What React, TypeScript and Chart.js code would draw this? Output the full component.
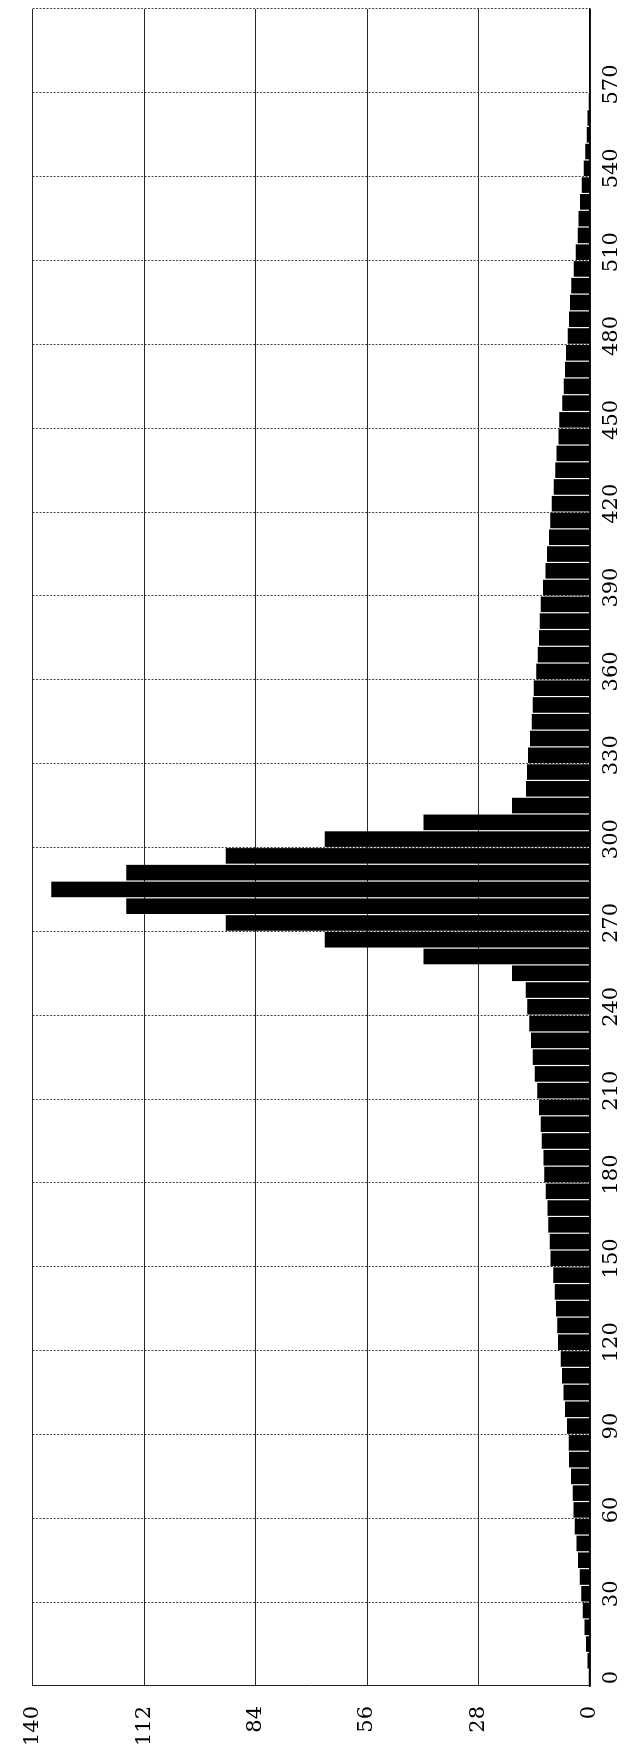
import React, { useEffect, useRef } from 'react';
import { Chart, registerables } from 'chart.js';

Chart.register(...registerables);

// Bin start values (category axis, bin width 6)
const BIN_STARTS = [
  0, 6, 12, 18, 24, 30, 36, 42, 48, 54,
  60, 66, 72, 78, 84, 90, 96, 102, 108, 114,
  120, 126, 132, 138, 144, 150, 156, 162, 168, 174,
  180, 186, 192, 198, 204, 210, 216, 222, 228, 234,
  240, 246, 252, 258, 264, 270, 276, 282, 288, 294,
  300, 306, 312, 318, 324, 330, 336, 342, 348, 354,
  360, 366, 372, 378, 384, 390, 396, 402, 408, 414,
  420, 426, 432, 438, 444, 450, 456, 462, 468, 474,
  480, 486, 492, 498, 504, 510, 516, 522, 528, 534,
  540, 546, 552, 558, 564, 570, 576, 582, 588, 594,
];

// Counts per bin
const COUNTS = [
  0.3, 0.6, 1.0, 1.4, 1.8, 2.2, 2.6, 3.0, 3.4, 3.8,
  4.15, 4.35, 4.75, 5.25, 5.35, 5.75, 6.25, 6.65, 7.05, 7.35,
  8.05, 8.25, 8.55, 8.85, 9.25, 9.9, 10.1, 10.5, 10.7, 11.1,
  11.5, 11.7, 12.15, 12.4, 12.8, 13.25, 13.85, 14.35, 14.85, 15.25,
  15.75, 16.15, 19.6, 41.8, 66.6, 91.5, 116.5, 135.3, 116.5, 91.5,
  66.6, 41.8, 19.6, 16.1, 15.8, 15.6, 15.1, 14.6, 14.4, 14.1,
  13.5, 13.1, 12.8, 12.6, 12.4, 11.8, 11.2, 10.8, 10.3, 10.0,
  9.6, 9.1, 8.7, 8.4, 7.9, 7.7, 7.0, 6.6, 6.3, 6.0,
  5.6, 5.3, 5.0, 4.7, 4.1, 3.6, 3.1, 2.9, 2.5, 2.1,
  1.6, 1.2, 0.8, 0.6, 0.3, 0.15, 0.05, 0, 0, 0,
];

// Category tick labels (every 5th bin)
const X_TICK_LABELS = [
  '0', '30', '60', '90', '120', '150', '180', '210', '240', '270',
  '300', '330', '360', '390', '420', '450', '480', '510', '540', '570',
];

// Value axis
const Y_MIN = 0;
const Y_MAX = 140;
const Y_STEP = 28;

const CANVAS_W = 1752;
const CANVAS_H = 633;
const FONT = { family: 'DejaVu Serif', size: 21 };

export default function App() {
  const ref = useRef<HTMLCanvasElement>(null);

  useEffect(() => {
    if (!ref.current) return;
    const chart = new Chart(ref.current, {
      type: 'bar',
      data: {
        labels: BIN_STARTS.map(String),
        datasets: [
          {
            data: COUNTS,
            backgroundColor: '#000000',
            borderWidth: 0,
            barPercentage: 0.93,
            categoryPercentage: 1,
          },
        ],
      },
      options: {
        animation: false,
        responsive: true,
        maintainAspectRatio: false,
        layout: { padding: { left: 0, right: 9, top: 26, bottom: 0 } },
        plugins: { legend: { display: false }, tooltip: { enabled: false } },
        scales: {
          x: {
            type: 'category',
            afterFit: (s: any) => {
              s.height = 43;
            },
            grid: {
              offset: true,
              drawTicks: false,
              lineWidth: 1,
              color: (ctx: any) =>
                ctx.index === undefined || ctx.index % 5 === 0 ? '#444444' : 'rgba(0,0,0,0)',
            },
            border: { display: true, color: '#000000', width: 1.5, dash: [2, 1.5] },
            ticks: {
              autoSkip: false,
              maxRotation: 0,
              minRotation: 0,
              padding: 9,
              color: '#000000',
              font: FONT,
              callback: (_v: any, i: number) => (i % 5 === 0 ? X_TICK_LABELS[i / 5] : ''),
            },
          },
          y: {
            min: Y_MIN,
            max: Y_MAX,
            afterFit: (s: any) => {
              s.width = 66;
            },
            grid: {
              drawTicks: false,
              color: '#2a2a2a',
              lineWidth: 1,
            },
            border: { display: true, color: '#222222', width: 1 },
            ticks: {
              stepSize: Y_STEP,
              padding: 20,
              color: '#000000',
              font: FONT,
            },
          },
        },
      },
    });
    return () => chart.destroy();
  }, []);

  return (
    <div
      style={{
        position: 'absolute',
        left: 0,
        top: 0,
        width: 633,
        height: 1752,
        overflow: 'hidden',
        background: '#ffffff',
      }}
    >
      <div
        style={{
          position: 'absolute',
          left: 0,
          top: 0,
          width: CANVAS_W,
          height: CANVAS_H,
          transformOrigin: '0 0',
          transform: `translateY(${CANVAS_W}px) rotate(-90deg)`,
        }}
      >
        <canvas ref={ref} />
      </div>
    </div>
  );
}
